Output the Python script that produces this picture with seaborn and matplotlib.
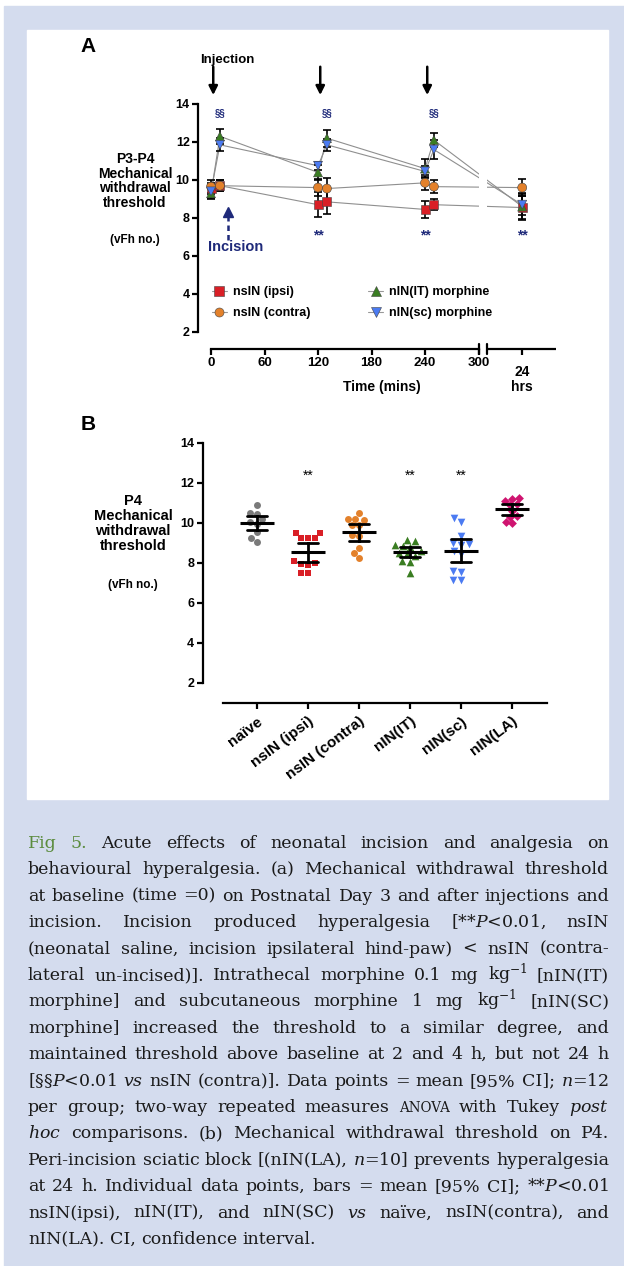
import numpy as np
import pandas as pd
import seaborn as sns
import matplotlib.pyplot as plt
from matplotlib.patches import Rectangle
from matplotlib.lines import Line2D


# ---- Panel A: time course, mean and 95% CI half-width (vFh no.) ----
times = [0, 10, 120, 130, 240, 250, 1440]  # minutes, last one = 24 h
ipsi_mean = [9.55, 9.7, 8.7, 8.85, 8.45, 8.7, 8.55]
ipsi_ci = [0.3, 0.3, 0.65, 0.65, 0.45, 0.3, 0.6]
contra_mean = [9.65, 9.7, 9.6, 9.55, 9.85, 9.65, 9.6]
contra_ci = [0.35, 0.3, 0.45, 0.55, 0.4, 0.35, 0.45]
it_mean = [9.3, 12.3, 10.4, 12.2, 10.6, 12.1, 8.6]
it_ci = [0.3, 0.4, 0.4, 0.45, 0.5, 0.35, 0.7]
sc_mean = [9.4, 11.85, 10.75, 11.85, 10.45, 11.6, 8.7]
sc_ci = [0.35, 0.35, 0.2, 0.3, 0.3, 0.5, 0.55]
series_a = ['nsIN (ipsi)', 'nsIN (contra)', 'nIN(IT) morphine', 'nIN(sc) morphine']
injection_times = [0, 120, 240]
post_times = [10, 130, 250]
star_times = [120, 240, 1440]

# ---- Panel B: individual thresholds on P4 ----
groups_b = ['naïve', 'nsIN (ipsi)', 'nsIN (contra)', 'nIN(IT)', 'nIN(sc)', 'nIN(LA)']
naive = [10.9, 10.5, 10.45, 10.2, 10.05, 9.95, 9.55, 9.25, 9.05]
ipsi_b = [9.5, 9.5, 9.25, 9.25, 9.25, 8.1, 8.0, 7.95, 7.9, 7.5, 7.5]
contra_b = [10.5, 10.2, 10.2, 10.15, 9.9, 9.9, 9.4, 9.35, 8.75, 8.5, 8.25]
it_b = [9.15, 9.1, 8.9, 8.85, 8.8, 8.6, 8.5, 8.45, 8.35, 8.1, 8.05, 7.5]
sc_b = [10.25, 10.05, 9.35, 9.0, 8.95, 8.9, 8.6, 8.45, 7.6, 7.55, 7.15, 7.15]
la_b = [11.25, 11.2, 11.1, 10.95, 10.9, 10.6, 10.35, 10.3, 10.05, 10.0]
starred_b = ['nsIN (ipsi)', 'nIN(IT)', 'nIN(sc)']

RED, ORANGE, GREEN, BLUE = '#d91f26', '#e3812b', '#3a7d22', '#4b7bf2'
GRAY, MAGENTA, NAVY = '#7a7a7a', '#cf1470', '#1f2a7a'

W, H = 624, 1266


def fx(px):
    return px / W


def fy(py):
    return 1 - py / H


sns.set_theme(style='ticks')
plt.rcParams['font.family'] = ['Liberation Sans', 'DejaVu Sans']
plt.rcParams['font.weight'] = 'bold'
for k in ['text.color', 'axes.labelcolor', 'xtick.color', 'ytick.color', 'axes.edgecolor']:
    plt.rcParams[k] = 'black'
plt.rcParams['axes.linewidth'] = 1.6
plt.rcParams['mathtext.fontset'] = 'custom'
plt.rcParams['mathtext.rm'] = 'DejaVu Serif:weight=normal'
plt.rcParams['mathtext.it'] = 'DejaVu Serif:style=italic:weight=normal'

fig = plt.figure(figsize=(W / 100, H / 100), dpi=100)
fig.add_artist(Rectangle((fx(4), 0), 1 - fx(4), fy(6), transform=fig.transFigure,
                         color='#d4dcee', zorder=-2))
fig.add_artist(Rectangle((fx(27), fy(799)), fx(608) - fx(27), fy(30) - fy(799),
                         transform=fig.transFigure, color='white', zorder=-1))

# ================= Panel A =================
BREAK_LO, BREAK_HI, POS_24H, AX_END = 300, 309.5, 349, 386.6


def xpos(t):
    return t if t <= 300 else POS_24H


axA = fig.add_axes([fx(198), fy(349), fx(560) - fx(198), fy(100) - fy(349)])
axA.set_facecolor('none')

rows = []
for name, m, c in zip(series_a, [ipsi_mean, contra_mean, it_mean, sc_mean],
                      [ipsi_ci, contra_ci, it_ci, sc_ci]):
    for t, mm, cc in zip(times, m, c):
        rows.append({'group': name, 'x': xpos(t), 'mean': mm, 'ci': cc})
dfA = pd.DataFrame(rows)

colors_a = dict(zip(series_a, [RED, ORANGE, GREEN, BLUE]))
markers_a = dict(zip(series_a, ['s', 'o', '^', 'v']))

sns.lineplot(data=dfA, x='x', y='mean', units='group', estimator=None, sort=False,
             color='#8f8f8f', lw=0.8, ax=axA, zorder=1)
axA.axvspan(BREAK_LO + 0.5, BREAK_HI - 0.5, color='white', lw=0, zorder=1.5)
for name in series_a:
    d = dfA[dfA.group == name]
    axA.errorbar(d.x, d['mean'], yerr=d.ci, fmt='none', ecolor='black',
                 elinewidth=1.2, capsize=3, capthick=1.2, zorder=2)
sns.scatterplot(data=dfA, x='x', y='mean', hue='group', style='group',
                palette=colors_a, markers=markers_a, s=42, edgecolor='#444444',
                linewidth=0.4, legend=False, ax=axA, zorder=3)

axA.set_xlim(-14.6, 391.4)
axA.set_ylim(1.105, 14.21)
axA.set(xlabel='', ylabel='')
axA.spines[['top', 'right']].set_visible(False)
axA.spines['left'].set_bounds(2, 14)
axA.spines['bottom'].set_bounds(0, BREAK_LO)
axA.set_yticks(range(2, 15, 2))
axA.set_xticks([0, 60, 120, 180, 240, 300, POS_24H])
axA.set_xticklabels(['0', '60', '120', '180', '240', '300', ''])
axA.tick_params(axis='both', direction='out', length=4, width=1.6, pad=2)
axA.tick_params(axis='x', labelsize=9.5)
axA.tick_params(axis='y', labelsize=9)
xt = axA.get_xaxis_transform()
axA.plot([BREAK_HI, AX_END], [0, 0], color='black', lw=1.6, transform=xt,
         clip_on=False, solid_capstyle='butt')
for bx in [BREAK_LO, BREAK_HI]:
    axA.plot([bx, bx], [-0.022, 0.022], color='black', lw=1.6, transform=xt, clip_on=False)
axA.text(POS_24H, -0.066, '24\nhrs', transform=xt, ha='center', va='top',
         fontsize=10, linespacing=1.05)

for t in injection_times:
    axA.annotate('', xy=(t + 2.5, 14.47), xytext=(t + 2.5, 15.96),
                 arrowprops=dict(arrowstyle='-|>', color='black', lw=1.8,
                                 mutation_scale=13, shrinkA=0, shrinkB=0),
                 annotation_clip=False)
axA.text(18, 16.32, 'Injection', ha='center', va='center', fontsize=9.5, clip_on=False)
for t in post_times:
    axA.text(t, 13.54, '§§', ha='center', va='center', fontsize=7, color=NAVY)
for t in star_times:
    axA.text(xpos(t), 7.1, '**', ha='center', va='center', fontsize=10, color=NAVY)

axA.plot([19, 19], [6.85, 8.05], color=NAVY, lw=1.8, ls=(0, (2.2, 1.6)))
axA.plot([19], [8.3], marker='^', ms=7, color=NAVY)
axA.text(28, 6.47, 'Incision', ha='center', va='center', fontsize=10.5, color=NAVY)

handles = [Line2D([0], [0], color='#999999', lw=0.8, marker=markers_a[n],
                  markerfacecolor=colors_a[n], markeredgecolor='#444444',
                  markeredgewidth=0.4, markersize=6.5) for n in series_a]
axA.legend(handles, series_a, ncol=2, loc='upper left', bbox_to_anchor=(0.038, 0.253),
           frameon=False, fontsize=9, handlelength=1.2, handletextpad=0.5,
           columnspacing=4.6, labelspacing=0.75, borderpad=0, borderaxespad=0)

fig.text(fx(88), fy(47), 'A', fontsize=15, ha='center', va='center')
fig.text(fx(135), fy(181), 'P3-P4\nMechanical\nwithdrawal\nthreshold', ha='center',
         va='center', fontsize=10, linespacing=1.05)
fig.text(fx(135), fy(240), '(vFh no.)', ha='center', va='center', fontsize=8.5)
fig.text(fx(382), fy(387), 'Time (mins)', ha='center', va='center', fontsize=10)

# ================= Panel B =================
axB = fig.add_axes([fx(202.7), fy(703), fx(560) - fx(202.7), fy(440) - fy(703)])
axB.set_facecolor('none')

values_b = [naive, ipsi_b, contra_b, it_b, sc_b, la_b]
dfB = pd.DataFrame({'group': np.repeat(groups_b, [len(v) for v in values_b]),
                    'value': np.concatenate(values_b)})
markers_b = ['o', 's', 'o', '^', 'v', 'D']
colors_b = [GRAY, RED, ORANGE, GREEN, BLUE, MAGENTA]
sizes_b = [5, 5, 5, 5.5, 5.5, 4.5]

for g, mk, col, sz in zip(groups_b, markers_b, colors_b, sizes_b):
    sns.swarmplot(data=dfB[dfB.group == g], x='group', y='value', order=groups_b,
                  marker=mk, color=col, size=sz, ax=axB, zorder=2)
sns.pointplot(data=dfB, x='group', y='value', order=groups_b, errorbar=('ci', 95),
              seed=1, color='black', markers='_', markersize=24, markeredgewidth=2.2,
              linestyle='none', capsize=0.4, err_kws={'linewidth': 2}, ax=axB, zorder=4)

axB.set_xlim(-1.065, 5.94)
axB.set_ylim(0.985, 14.135)
axB.set(xlabel='', ylabel='')
axB.spines[['top', 'right']].set_visible(False)
axB.spines['left'].set_bounds(2, 14)
axB.spines['bottom'].set_bounds(-0.667, 5.68)
axB.set_yticks(range(2, 15, 2))
axB.set_xticks(range(len(groups_b)))
axB.set_xticklabels(groups_b, rotation=37, ha='right', rotation_mode='anchor', fontsize=11)
axB.tick_params(axis='both', direction='out', length=4, width=1.6, pad=2)
axB.tick_params(axis='y', labelsize=9)
axB.tick_params(axis='x', pad=4)
for g in starred_b:
    axB.text(groups_b.index(g), 12.33, '**', ha='center', va='center', fontsize=10,
             weight='normal')

fig.text(fx(88), fy(425), 'B', fontsize=15, ha='center', va='center')
fig.text(fx(133), fy(523.5), 'P4\nMechanical\nwithdrawal\nthreshold', ha='center',
         va='center', fontsize=10.5, linespacing=1.08)
fig.text(fx(133), fy(585), '(vFh no.)', ha='center', va='center', fontsize=8.5)

# ================= Caption =================
caption = [
    "Fig 5. Acute effects of neonatal incision and analgesia on",
    "behavioural hyperalgesia. (a) Mechanical withdrawal threshold",
    "at baseline (time =0) on Postnatal Day 3 and after injections and",
    "incision. Incision produced hyperalgesia [**$\\mathit{P}$<0.01, nsIN",
    "(neonatal saline, incision ipsilateral hind-paw) < nsIN (contra-",
    "lateral un-incised)]. Intrathecal morphine 0.1 mg kg$^{-1}$ [nIN(IT)",
    "morphine] and subcutaneous morphine 1 mg kg$^{-1}$ [nIN(SC)",
    "morphine] increased the threshold to a similar degree, and",
    "maintained threshold above baseline at 2 and 4 h, but not 24 h",
    "[§§$\\mathit{P}$<0.01 $\\mathit{vs}$ nsIN (contra)]. Data points = mean [95% CI]; $\\mathit{n}$=12",
    "per group; two-way repeated measures ANOVA with Tukey $\\mathit{post}$",
    "$\\mathit{hoc}$ comparisons. (b) Mechanical withdrawal threshold on P4.",
    "Peri-incision sciatic block [(nIN(LA), $\\mathit{n}$=10] prevents hyperalgesia",
    "at 24 h. Individual data points, bars = mean [95% CI]; **$\\mathit{P}$<0.01",
    "nsIN(ipsi), nIN(IT), and nIN(SC) $\\mathit{vs}$ naïve, nsIN(contra), and",
    "nIN(LA). CI, confidence interval.",
]
CAP_X0, CAP_X1, CAP_Y0, CAP_DY = 28, 609, 848, 26.4
renderer = fig.canvas.get_renderer()


def caption_words(i, line, fs):
    arts = []
    for j, w in enumerate(line.split(' ')):
        col = '#5b8c3e' if (i == 0 and j < 2) else '#1a1a1a'
        size = fs * 0.78 if w == 'ANOVA' else fs
        arts.append(fig.text(0, fy(CAP_Y0 + i * CAP_DY), w, fontsize=size,
                             family='DejaVu Serif', weight='normal', color=col,
                             va='baseline'))
    return arts


# pick one caption size so that the tightest line still has normal word spacing
base = 10.0
need = 0
for i, line in enumerate(caption):
    arts = caption_words(i, line, base)
    wsum = sum(a.get_window_extent(renderer).width for a in arts)
    need = max(need, wsum + (len(arts) - 1) * 0.3 * base * 100 / 72)
    for a in arts:
        a.remove()
CAP_FS = min(13.5, base * (CAP_X1 - CAP_X0) / need)

for i, line in enumerate(caption):
    arts = caption_words(i, line, CAP_FS)
    widths = [a.get_window_extent(renderer).width for a in arts]
    if i < len(caption) - 1:
        gap = (CAP_X1 - CAP_X0 - sum(widths)) / (len(arts) - 1)
    else:
        gap = 0.3 * CAP_FS * 100 / 72
    x = CAP_X0
    for a, wd in zip(arts, widths):
        a.set_x(fx(x))
        x += wd + gap

fig.savefig('out.png', dpi=100)
